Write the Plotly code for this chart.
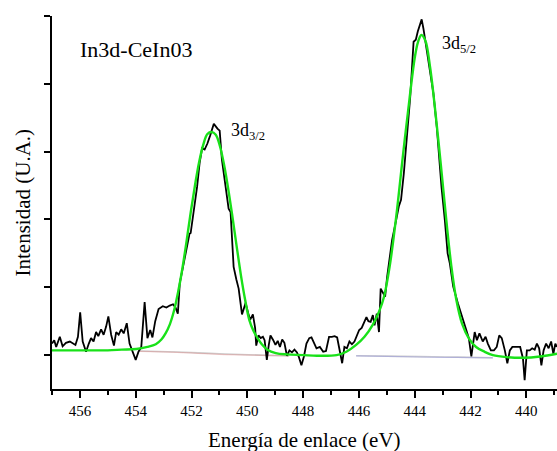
import plotly.graph_objects as go

# ---- data ----
energy = [457.00, 456.92, 456.85, 456.72, 456.62, 456.50, 456.36, 456.26, 456.16, 456.07,
          455.99, 455.90, 455.78, 455.68, 455.60, 455.51, 455.42, 455.34, 455.24, 455.15,
          455.06, 454.98, 454.88, 454.78, 454.70, 454.61, 454.52, 454.43, 454.32, 454.22,
          454.12, 454.00, 453.90, 453.80, 453.68, 453.58, 453.48, 453.40, 453.30, 453.18,
          453.03, 452.90, 452.78, 452.66, 452.57, 452.49, 452.42, 452.30, 452.18, 452.07,
          452.03, 451.91, 451.80, 451.71, 451.62, 451.53, 451.43, 451.33, 451.20, 451.07,
          450.99, 450.91, 450.79, 450.67, 450.60, 450.55, 450.49, 450.39, 450.31, 450.19,
          450.06, 449.97, 449.90, 449.80, 449.72, 449.68, 449.60, 449.52, 449.44, 449.38,
          449.30, 449.23, 449.17, 449.07, 448.99, 448.91, 448.83, 448.75, 448.67, 448.58,
          448.49, 448.40, 448.31, 448.22, 448.15, 448.06, 447.97, 447.88, 447.78, 447.70,
          447.61, 447.52, 447.40, 447.28, 447.18, 447.07, 446.97, 446.87, 446.78, 446.68,
          446.60, 446.52, 446.43, 446.34, 446.25, 446.16, 446.08, 445.99, 445.90, 445.82,
          445.73, 445.66, 445.58, 445.50, 445.44, 445.36, 445.28, 445.22, 445.14, 445.06,
          444.99, 444.90, 444.81, 444.69, 444.57, 444.49, 444.39, 444.28, 444.16, 444.04,
          443.96, 443.89, 443.80, 443.75, 443.69, 443.61, 443.49, 443.33, 443.21, 443.13,
          443.04, 442.92, 442.82, 442.74, 442.62, 442.45, 442.33, 442.21, 442.13, 442.06,
          441.97, 441.85, 441.77, 441.68, 441.56, 441.46, 441.38, 441.27, 441.16, 441.06,
          440.97, 440.88, 440.77, 440.68, 440.59, 440.50, 440.37, 440.22, 440.12, 440.06,
          439.98, 439.88, 439.79, 439.70, 439.62, 439.54, 439.46, 439.38, 439.29, 439.20,
          439.11, 439.03, 438.96, 438.90]
intensity = [0.17, 0.22, 0.12, 0.27, 0.13, 0.18, 0.20, 0.18, 0.15, 0.27,
             0.63, 0.20, 0.05, 0.17, 0.25, 0.20, 0.34, 0.28, 0.38, 0.30,
             0.42, 0.57, 0.30, 0.14, 0.34, 0.30, 0.38, 0.32, 0.47, 0.17,
             0.05, -0.07, 0.05, 0.12, 0.78, 0.25, 0.37, 0.26, 0.50, 0.68,
             0.72, 0.70, 0.73, 0.75, 0.70, 0.61, 1.06, 1.30, 1.55, 1.79,
             1.80, 2.14, 2.48, 2.83, 3.05, 3.03, 3.12, 3.24, 3.41, 3.34,
             3.31, 2.88, 2.48, 2.16, 2.11, 1.74, 1.30, 1.11, 0.98, 0.60,
             0.77, 0.62, 0.52, 0.60, 0.40, 0.14, 0.29, 0.25, 0.27, 0.22,
             -0.07, 0.15, 0.29, 0.22, 0.15, 0.21, 0.12, 0.23, 0.18, -0.01,
             0.07, 0.04, 0.08, 0.04, -0.03, -0.15, -0.02, 0.17, 0.25, 0.26,
             0.17, 0.10, 0.12, 0.05, 0.06, 0.27, 0.27, 0.28, 0.26, 0.07,
             -0.12, 0.12, 0.10, 0.20, 0.16, 0.20, 0.29, 0.37, 0.40, 0.47,
             0.56, 0.50, 0.49, 0.59, 0.44, 0.61, 0.34, 0.98, 0.91, 0.86,
             1.15, 1.45, 1.70, 1.94, 2.19, 2.29, 2.68, 3.22, 3.81, 4.62,
             4.65, 4.77, 4.89, 4.95, 4.82, 4.60, 4.30, 3.86, 3.37, 2.92,
             2.48, 1.99, 1.50, 1.35, 1.01, 0.76, 0.61, 0.44, 0.37, 0.25,
             -0.02, 0.34, 0.22, 0.32, 0.20, 0.27, 0.17, 0.07, 0.07, 0.12,
             0.29, 0.25, 0.07, -0.12, 0.07, 0.12, 0.12, 0.12, -0.05, -0.37,
             0.07, 0.07, 0.10, 0.08, 0.17, 0.10, -0.15, 0.07, 0.17, 0.10,
             0.20, 0.02, 0.17, 0.12]

fit_energy = [457.0, 456.0, 455.0, 454.5, 453.98, 453.58, 453.28, 453.08, 452.93, 452.78,
              452.63, 452.48, 452.33, 452.18, 452.03, 451.88, 451.73, 451.58, 451.43, 451.28,
              451.13, 450.98, 450.83, 450.68, 450.53, 450.38, 450.23, 450.08, 449.93, 449.78,
              449.63, 449.48, 449.28, 448.98, 448.58, 448.0, 447.5, 446.8, 446.45, 446.1,
              445.8, 445.5, 445.26, 445.1, 444.9, 444.66, 444.42, 444.18, 444.0, 443.88,
              443.76, 443.62, 443.45, 443.25, 443.05, 442.87, 442.69, 442.51, 442.3, 442.05,
              441.8, 441.5, 441.2, 440.7, 440.1, 439.5, 438.9]
fit_intensity = [0.07, 0.07, 0.07, 0.08, 0.09, 0.12, 0.16, 0.23, 0.32, 0.45,
                 0.65, 0.93, 1.27, 1.67, 2.10, 2.49, 2.84, 3.10, 3.26, 3.29,
                 3.25, 3.08, 2.80, 2.44, 2.03, 1.60, 1.18, 0.82, 0.52, 0.36,
                 0.25, 0.16, 0.08, 0.03, 0.01, 0.0, -0.01, 0.0, 0.05, 0.15,
                 0.27, 0.45, 0.66, 0.86, 1.30, 2.05, 2.95, 3.80, 4.38, 4.62,
                 4.72, 4.64, 4.25, 3.55, 2.75, 2.00, 1.32, 0.82, 0.46, 0.24,
                 0.12, 0.05, 0.0, -0.03, -0.04, -0.02, 0.02]

bg1_energy = [453.85, 452.5, 451.0, 449.5, 448.5]
bg1_grey = [0.06, 0.045, 0.02, 0.0, -0.01]
bg1_red = [0.055, 0.04, 0.012, -0.003, -0.012]
bg2_energy = [446.1, 445.0, 443.8, 442.5, 441.2]
bg2_grey = [-0.01, -0.015, -0.022, -0.03, -0.04]
bg2_blue = [-0.012, -0.02, -0.028, -0.035, -0.042]

x_ticks = [456, 454, 452, 450, 448, 446, 444, 442, 440]
y_ticks = [0, 1, 2, 3, 4, 5]

FONT = "Liberation Serif"

fig = go.Figure()
fig.add_trace(go.Scatter(x=bg1_energy, y=bg1_grey, mode="lines", line=dict(color="#cfcfcf", width=1.6), line_shape="spline"))
fig.add_trace(go.Scatter(x=bg1_energy, y=bg1_red, mode="lines", line=dict(color="rgba(225,130,130,0.4)", width=1.2), line_shape="spline"))
fig.add_trace(go.Scatter(x=bg2_energy, y=bg2_grey, mode="lines", line=dict(color="#cfcfcf", width=1.6), line_shape="spline"))
fig.add_trace(go.Scatter(x=bg2_energy, y=bg2_blue, mode="lines", line=dict(color="rgba(130,130,225,0.4)", width=1.2), line_shape="spline"))
fig.add_trace(go.Scatter(x=energy, y=intensity, mode="lines", line=dict(color="black", width=1.8)))
fig.add_trace(go.Scatter(x=fit_energy, y=fit_intensity, mode="lines", line=dict(color="rgb(25,225,25)", width=2.4), line_shape="spline"))

fig.update_layout(
    width=557, height=451,
    margin=dict(l=52, r=0, t=16, b=62),
    paper_bgcolor="white", plot_bgcolor="white",
    showlegend=False,
    font=dict(family=FONT, color="black"),
    xaxis=dict(range=[457, 438.9], tickmode="array", tickvals=x_ticks,
               ticks="outside", ticklen=7, tickwidth=1.5, tickcolor="black",
               minor=dict(ticks="outside", ticklen=4, tickwidth=1.5, tickcolor="black", dtick=1, tick0=439),
               showline=True, linecolor="black", linewidth=1.5, mirror=False,
               showgrid=False, zeroline=False, tickfont=dict(family=FONT, size=15)),
    yaxis=dict(range=[-0.5, 5], tickmode="array", tickvals=y_ticks, showticklabels=False,
               ticks="outside", ticklen=6, tickwidth=1.5, tickcolor="black",
               showline=True, linecolor="black", linewidth=1.5,
               showgrid=False, zeroline=False),
    annotations=[
        dict(text="Intensidad (U.A.)", xref="paper", yref="paper", x=0, y=0.5, xshift=-30,
             textangle=-90, showarrow=False, font=dict(family=FONT, size=21), xanchor="center", yanchor="middle"),
        dict(text="Energía de enlace (eV)", xref="paper", yref="paper", x=0.5, y=0, yshift=-51,
             showarrow=False, font=dict(family=FONT, size=21), xanchor="center", yanchor="middle"),
        dict(text="In3d-CeIn03", xref="x", yref="y", x=456.08, y=4.5, showarrow=False,
             font=dict(family=FONT, size=22), xanchor="left", yanchor="middle"),
        dict(text="3d<sub>3/2</sub>", xref="x", yref="y", x=450.64, y=3.30, showarrow=False,
             font=dict(family=FONT, size=18), xanchor="left", yanchor="middle"),
        dict(text="3d<sub>5/2</sub>", xref="x", yref="y", x=443.08, y=4.58, showarrow=False,
             font=dict(family=FONT, size=18), xanchor="left", yanchor="middle"),
    ],
)

fig.write_html("out.html")
